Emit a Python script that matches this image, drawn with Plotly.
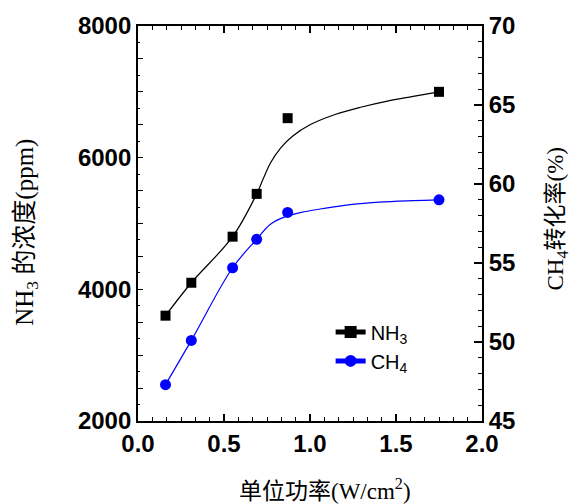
import plotly.graph_objects as go

# Data
power = [0.16, 0.31, 0.55, 0.69, 0.87, 1.75]          # W/cm^2
nh3_ppm = [3600, 4100, 4800, 5450, 6600, 7000]         # left axis
ch4_conv = [47.3, 50.1, 54.7, 56.5, 58.2, 59.0]        # right axis (%)

# Smoothed fit curves as drawn in the chart
fit_nh3_x = [0.16, 0.31, 0.55, 0.69, 0.73, 0.77, 0.83, 0.90, 1.00, 1.15, 1.30, 1.45, 1.60, 1.75]
fit_nh3_y = [3600, 4100, 4800, 5450, 5690, 5920, 6150, 6330, 6500, 6660, 6770, 6860, 6930, 7000]
fit_ch4_x = [0.16, 0.31, 0.55, 0.69, 0.77, 0.85, 0.95, 1.05, 1.20, 1.40, 1.60, 1.75]
fit_ch4_y = [47.3, 50.1, 54.7, 56.5, 57.45, 57.9, 58.2, 58.4, 58.65, 58.85, 58.95, 59.0]

left_ticks = list(range(2000, 8001, 500))
left_text = [str(v) if v % 2000 == 0 else " " for v in left_ticks]

TICKFONT = dict(family="Liberation Sans, Arial, sans-serif", size=24, color="black", weight="bold")
TITLEFONT = dict(family="Liberation Serif, Times New Roman, Noto Sans CJK SC, serif", size=23, color="black")
LEFTTITLEFONT = dict(TITLEFONT, size=25)

fig = go.Figure()

fig.add_trace(go.Scatter(x=fit_nh3_x, y=fit_nh3_y, mode="lines", line=dict(color="black", width=1.2, shape="spline"),
                         showlegend=False, hoverinfo="skip"))
fig.add_trace(go.Scatter(x=power, y=nh3_ppm, mode="markers",
                         marker=dict(symbol="square", size=10, color="black"), showlegend=False))
fig.add_trace(go.Scatter(x=fit_ch4_x, y=fit_ch4_y, mode="lines", yaxis="y2",
                         line=dict(color="#0000ff", width=1.2, shape="spline"), showlegend=False, hoverinfo="skip"))
fig.add_trace(go.Scatter(x=power, y=ch4_conv, mode="markers", yaxis="y2",
                         marker=dict(symbol="circle", size=11, color="#0000ff"), showlegend=False))

# legend entries
fig.add_trace(go.Scatter(x=[None], y=[None], mode="lines+markers", name="NH<sub>3</sub>",
                         line=dict(color="black", width=1.2), marker=dict(symbol="square", size=10, color="black")))
fig.add_trace(go.Scatter(x=[None], y=[None], mode="lines+markers", name="CH<sub>4</sub>", yaxis="y2",
                         line=dict(color="#0000ff", width=1.2), marker=dict(symbol="circle", size=11, color="#0000ff")))

fig.update_layout(
    width=572, height=504,
    margin=dict(l=138, r=90, t=23, b=83),
    paper_bgcolor="white", plot_bgcolor="white",
    showlegend=True,
    legend=dict(x=0.56, y=0.275, xanchor="left", yanchor="top", bgcolor="rgba(0,0,0,0)",
                font=dict(family="Liberation Sans, Arial, sans-serif", size=20, color="black"),
                tracegroupgap=0, itemsizing="constant"),
    xaxis=dict(range=[0, 2.0], tickmode="array", tickvals=[0, 0.5, 1.0, 1.5, 2.0],
               ticktext=["0.0", "0.5", "1.0", "1.5", "2.0"],
               ticks="inside", ticklen=7, tickwidth=1.5, tickcolor="black",
               minor=dict(dtick=1/12, ticks="inside", ticklen=4, tickwidth=1.2, tickcolor="black"),
               showline=True, linecolor="black", linewidth=1.8, mirror="ticks",
               showgrid=False, zeroline=False, tickfont=TICKFONT),
    yaxis=dict(range=[2000, 8000], tickmode="array", tickvals=left_ticks, ticktext=left_text,
               ticks="inside", ticklen=5, tickwidth=1.2, tickcolor="black",
               minor=dict(dtick=250, ticks="inside", ticklen=2.5, tickwidth=1, tickcolor="black"),
               showline=True, linecolor="black", linewidth=1.8, mirror=False,
               showgrid=False, zeroline=False, tickfont=TICKFONT),
    yaxis2=dict(range=[45, 70], overlaying="y", side="right", dtick=5, tick0=45,
                ticks="inside", ticklen=8, tickwidth=1.5, tickcolor="black",
                minor=dict(dtick=1, ticks="inside", ticklen=4, tickwidth=1.2, tickcolor="black"),
                showline=True, linecolor="black", linewidth=1.8,
                showgrid=False, zeroline=False, tickfont=TICKFONT),
    annotations=[
        dict(text="NH<sub>3</sub> 的浓度(ppm)", xref="paper", yref="paper", x=-0.325, y=0.477,
             textangle=-90, showarrow=False, font=LEFTTITLEFONT, xanchor="center", yanchor="middle"),
        dict(text="CH<sub>4</sub>转化率(%)", xref="paper", yref="paper", x=1.218, y=0.5126,
             textangle=-90, showarrow=False, font=TITLEFONT, xanchor="center", yanchor="middle"),
        dict(text="单位功率(W/cm<sup>2</sup>)", xref="paper", yref="paper", x=0.545, y=-0.174,
             showarrow=False, font=TITLEFONT, xanchor="center", yanchor="middle"),
    ],
)

fig.write_html("out.html", config={"displayModeBar": False},
               post_script="document.body.style.margin='0';document.body.style.overflow='hidden';")
